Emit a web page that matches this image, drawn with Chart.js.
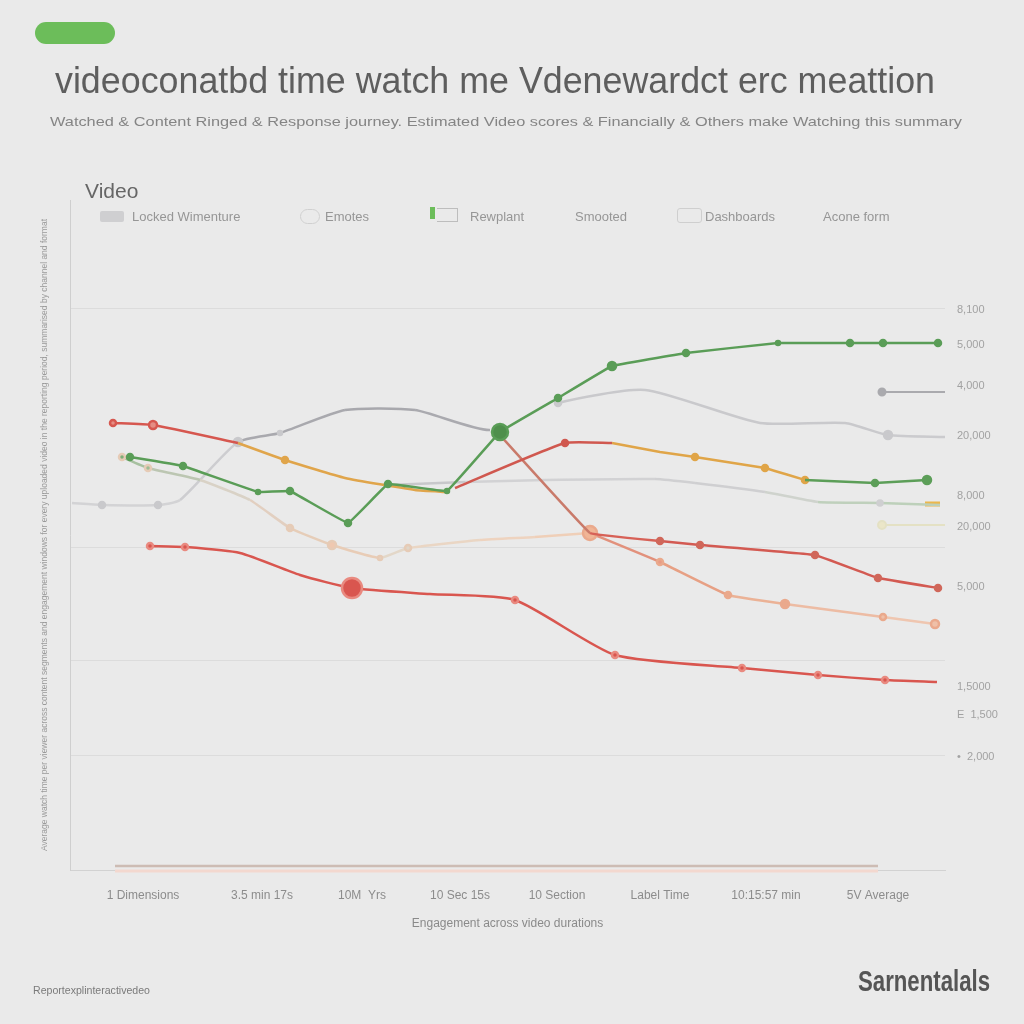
<!DOCTYPE html>
<html>
<head>
<meta charset="utf-8">
<script src="https://cdn.jsdelivr.net/npm/chart.js@4.4.0/dist/chart.umd.min.js"></script>
<style>
html, body { margin: 0; padding: 0; background: #eaeaea; }
#wrap { position: relative; width: 1024px; height: 1024px; overflow: hidden; font-family: "Liberation Sans", Arial, sans-serif; }
#c { position: absolute; left: 0; top: 0; }
.abs { position: absolute; white-space: nowrap; transform-origin: 0 0; }
.pill { position: absolute; left: 35px; top: 22px; width: 80px; height: 22px; border-radius: 11px; background: #6cbd5a; }
#title { left: 55px; top: 60px; font-size: 37px; color: #5e5e5e; }
#subtitle { left: 50px; top: 114px; font-size: 13px; color: #858585; }
#video { left: 85px; top: 179px; font-size: 21px; color: #666; }
.leg { position: absolute; top: 209px; font-size: 13px; color: #969696; white-space: nowrap; }
.sw { position: absolute; }
#foot1 { left: 33px; top: 984px; font-size: 11px; color: #7a7a7a; }
#foot2 { left: 858px; top: 964px; font-size: 30px; font-weight: bold; color: #555; }
</style>
</head>
<body>
<div id="wrap">
  <canvas id="c" width="1024" height="1024"></canvas>
  <div class="pill"></div>
  <div class="abs" id="title" data-w="880">videoconatbd time watch me Vden&#8203;ewardct erc meattion</div>
  <div class="abs" id="subtitle" data-w="912">Watched &amp; Content Ringed &amp; Response journey. Estimated Video scores &amp; Financially &amp; Others make Watching this summary</div>
  <div class="abs" id="video">Video</div>

  <div class="sw" style="left:100px;top:211px;width:24px;height:11px;background:#cfcfd1;border-radius:2px;"></div>
  <div class="leg" style="left:132px;">Locked Wimenture</div>
  <div class="sw" style="left:300px;top:209px;width:18px;height:13px;border:1.5px solid #d0d0d0;border-radius:8px;"></div>
  <div class="leg" style="left:325px;">Emotes</div>
  <div class="sw" style="left:430px;top:207px;width:5px;height:12px;background:#6cbd5a;"></div>
  <div class="sw" style="left:437px;top:208px;width:20px;height:12px;border:1.5px solid #bdbdbd;border-left:none;"></div>
  <div class="leg" style="left:470px;">Rewplant</div>
  <div class="leg" style="left:575px;">Smooted</div>
  <div class="sw" style="left:677px;top:208px;width:23px;height:13px;border:1.5px solid #cfcfcf;border-radius:3px;"></div>
  <div class="leg" style="left:705px;">Dashboards</div>
  <div class="leg" style="left:823px;">Acone form</div>

  <div class="abs" id="foot1" data-w="117">Reportexplinteractivedeo</div>
  <div class="abs" id="foot2" data-w="132">Sarnentalals</div>
</div>
<script>
// axis ticks / labels
var xTickPos = [7.3, 19.2, 29.2, 39.0, 48.7, 59.0, 69.6, 80.8];
var xTickLabels = ["1 Dimensions", "3.5 min 17s", "10M  Yrs", "10 Sec 15s", "10 Section", "Label Time", "10:15:57 min", "5V Average"];
var gridY = [11.5, 21.0, 32.3, 56.2];
var rightTickPos = [56.0, 52.5, 48.4, 43.4, 37.4, 34.3, 28.3, 18.3, 15.5, 11.3];
var rightTickLabels = ["8,100", "5,000", "4,000", "20,000", "8,000", "20,000", "5,000", "1,5000", "E  1,500", "\u2022  2,000"];

// series (x = minutes watched, y = engagement)
var greenX = [6.0, 11.3, 18.8, 22.0, 27.8, 31.8, 37.7, 43.0, 48.8, 54.2, 61.6, 70.8, 78.0, 81.3, 86.8];
var greenY = [41.3, 40.4, 37.8, 37.9, 34.7, 38.6, 37.9, 43.8, 47.2, 50.4, 51.7, 52.7, 52.7, 52.7, 52.7];
var grayX = [0.2, 3.2, 8.8, 11.0, 16.8, 21.0, 27.5, 34.5, 42.0, 48.8, 57.5, 69.0, 77.5, 81.8, 87.5];
var grayY = [36.7, 36.5, 36.5, 37.0, 42.8, 43.7, 46.0, 46.0, 44.0, 46.7, 48.0, 44.7, 44.7, 43.5, 43.3];
var lightX = [31.8, 39.5, 47.5, 58.5, 62.5, 69.5, 74.8, 81.0, 87.0];
var lightY = [38.5, 38.8, 39.0, 39.1, 38.7, 37.8, 36.8, 36.7, 36.5];
var beigeX = [5.2, 7.8, 13.0, 18.0, 22.0, 26.2, 31.0, 33.8, 41.0, 46.5, 52.0];
var beigeY = [41.3, 40.2, 39.0, 37.0, 34.2, 32.5, 31.2, 32.2, 33.0, 33.3, 33.7];
var peachX = [52.0, 59.0, 65.8, 71.5, 81.3, 86.5];
var peachY = [33.7, 30.8, 27.5, 26.6, 25.3, 24.6];
var redDownX = [42.8, 52.0, 59.0, 63.0, 74.5, 80.8, 86.8];
var redDownY = [43.7, 33.7, 32.9, 32.5, 31.5, 29.2, 28.2];
var redLowX = [8.0, 11.5, 17.0, 23.0, 28.2, 36.0, 44.5, 54.5, 67.2, 74.8, 81.5, 86.7];
var redLowY = [32.4, 32.3, 31.7, 29.5, 28.2, 27.6, 27.0, 21.5, 20.2, 19.5, 19.0, 18.8];
var redTopX = [4.3, 8.3, 16.8];
var redTopY = [44.7, 44.5, 42.7];
var orangeTopX = [16.8, 21.5, 27.5, 34.5, 37.7];
var orangeTopY = [42.7, 41.0, 39.2, 38.0, 37.8];
var redMidX = [38.5, 49.5, 54.2];
var redMidY = [38.2, 42.7, 42.7];
var orangeMidX = [54.2, 59.0, 62.5, 69.5, 73.5];
var orangeMidY = [42.7, 41.8, 41.3, 40.2, 39.0];
var greenShortX = [73.5, 80.5, 85.7];
var greenShortY = [39.0, 38.7, 39.0];
var grayShortX = [81.2, 87.5];
var grayShortY = [47.8, 47.8];
var paleX = [81.2, 87.5];
var paleY = [34.5, 34.5];
var baseX = [4.5, 80.8];
var baseY = [0.4, 0.4];
var basePinkY = [-0.1, -0.1];

function pts(xs, ys) {
    return xs.map(function (x, i) { return { x: x, y: ys[i] }; });
}
function seg(cols) {
    return { borderColor: function (ctx) { return cols[ctx.p0DataIndex]; } };
}
function line(label, xs, ys, color, extra) {
    var d = {
        label: label,
        data: pts(xs, ys),
        borderColor: color,
        backgroundColor: color,
        pointBackgroundColor: color,
        pointBorderColor: color,
        borderWidth: 2.5,
        pointRadius: 2.5,
        pointHoverRadius: 2.5,
        tension: 0.15,
        clip: false
    };
    for (var k in extra) d[k] = extra[k];
    return d;
}

var datasets = [
    line("Rewplant", greenX, greenY, "#5a9d57", {
        tension: 0.05,
        pointRadius: [3, 3, 2, 3, 3, 3, 2, 8, 3, 4, 3, 2, 3, 3, 3],
        pointBackgroundColor: ["#5a9d57", "#5a9d57", "#5a9d57", "#5a9d57", "#5a9d57", "#5a9d57", "#5a9d57", "#4f8f4c", "#5a9d57", "#5a9d57", "#5a9d57", "#5a9d57", "#5a9d57", "#5a9d57", "#5a9d57"]
    }),
    line("Acone form", greenShortX, greenShortY, "#5c9e58", { tension: 0.05, pointRadius: [0, 3, 4] }),
    line("Smooted", redLowX, redLowY, "#d9564f", {
        tension: 0.2,
        pointRadius: [3, 3, 0, 0, 10, 0, 3, 3, 3, 3, 3, 0],
        pointBorderColor: "#e98a80"
    }),
    line("Red top", redTopX, redTopY, "#d6574f", { pointRadius: [3, 4, 0], pointBackgroundColor: "#e58d84" }),
    line("Orange top", orangeTopX, orangeTopY, "#e0a54b", { pointRadius: [0, 3, 0, 0, 0] }),
    line("Red mid", redMidX, redMidY, "#d0584f", { pointRadius: [0, 3, 0] }),
    line("Orange mid", orangeMidX, orangeMidY, "#e0a548", { tension: 0.05, pointRadius: [0, 0, 3, 3, 3] }),
    line("Red down", redDownX, redDownY, "#d0675a", {
        tension: 0.05,
        pointRadius: [0, 0, 3, 3, 3, 3, 3],
        segment: seg(["#c97a6a", "#d76157", "#d35a52", "#d35a52", "#d35a52", "#d35a52"])
    }),
    line("Peach", peachX, peachY, "#eaa98c", {
        tension: 0.1,
        pointRadius: [7, 3, 3, 4, 3, 4],
        pointBackgroundColor: ["#f0b596", "#e89b85", "#eaa98c", "#eaa98c", "#efc0a8", "#efc0a8"],
        segment: seg(["#e2917c", "#e7a084", "#ebb296", "#edbca4", "#efc6b0"])
    }),
    line("Emotes", beigeX, beigeY, "#e6cbb6", {
        pointRadius: [3, 3, 0, 0, 3, 4, 2, 3, 0, 0, 0],
        pointBackgroundColor: ["#7fae78", "#9dbc94", "#dcd2c4", "#dcd2c4", "#e3cdbc", "#efc8b0", "#e6d3c3", "#e0d6c8", "#ebcdb6", "#ebcdb6", "#ebcdb6"],
        segment: seg(["#a7c0a0", "#bcc6b2", "#d9d2c6", "#e2cfc0", "#e6cdb8", "#e8ccb6", "#e3d7c8", "#ead6c4", "#eed3bf", "#efcfb8"])
    }),
    line("Dashboards", lightX, lightY, "#cfcfd1", {
        pointRadius: [0, 0, 0, 0, 0, 0, 0, 2.5, 0],
        segment: seg(["#c8c8cb", "#d2d2d4", "#d2d2d4", "#d0d0d2", "#cfcfd1", "#cfd3cd", "#bfd0bc", "#bdd0ba"])
    }),
    line("Locked Wimenture", grayX, grayY, "#b3b3b8", {
        tension: 0.2,
        pointRadius: [0, 3, 3, 0, 4, 2, 0, 0, 0, 3, 0, 0, 0, 4, 0],
        pointBackgroundColor: "#c9c9cc",
        pointBorderColor: "#c9c9cc",
        segment: seg(["#d3d3d5", "#d3d3d5", "#d3d3d5", "#cdcdd0", "#a9a9ae", "#a9a9ae", "#a8a8ad", "#aaaaaf", "rgba(0,0,0,0)", "#c9c9cc", "#c9c9cc", "#c9c9cc", "#c9c9cc", "#cbcbce"])
    }),
    line("Gray short", grayShortX, grayShortY, "#aaaaae", { borderWidth: 2, pointRadius: [3.5, 0] }),
    line("Pale", paleX, paleY, "#e4e1c4", { borderWidth: 2, pointRadius: [4, 0], pointBackgroundColor: "#ebe6c8" }),
    line("Orange tip", [85.5, 87.0], [36.6, 36.6], "#ebb74c", { borderWidth: 5, pointRadius: 0 }),
    line("Base", baseX, baseY, "#cdbcb4", { borderWidth: 2.5, pointRadius: 0 }),
    line("Base pink", baseX, basePinkY, "#f3d8cf", { borderWidth: 3, pointRadius: 0 })
];

var yTitle = "Average watch time per viewer across content segments and engagement windows for every uploaded video in the reporting period, summarised by channel and format";

var ctx = document.getElementById("c").getContext("2d");
var myChart = new Chart(ctx, {
    type: "line",
    data: { datasets: datasets },
    options: {
        responsive: false,
        animation: false,
        events: [],
        layout: { padding: { left: 30, top: 200, right: 0, bottom: 89 } },
        plugins: {
            legend: { display: false },
            title: { display: false },
            tooltip: { enabled: false }
        },
        scales: {
            x: {
                type: "linear",
                min: 0,
                max: 87.5,
                afterFit: function (s) { s.height = 65; },
                afterBuildTicks: function (s) { s.ticks = xTickPos.map(function (v) { return { value: v }; }); },
                ticks: {
                    autoSkip: false,
                    maxRotation: 0,
                    padding: 10,
                    color: "#8c8c8c",
                    font: { size: 12, family: "Liberation Sans" },
                    callback: function (v, i) { return xTickLabels[i]; }
                },
                grid: { display: false },
                border: { color: "#d2d2d2" },
                title: {
                    display: true,
                    text: "Engagement across video durations",
                    color: "#8a8a8a",
                    font: { size: 12, family: "Liberation Sans" },
                    padding: { top: 0, bottom: 4 }
                }
            },
            y: {
                position: "left",
                min: 0,
                max: 67,
                afterFit: function (s) { s.width = 40; },
                afterBuildTicks: function (s) { s.ticks = gridY.map(function (v) { return { value: v }; }); },
                ticks: { display: false },
                grid: { color: "#dcdcdc", drawTicks: false },
                border: { color: "#cfcfcf" },
                title: {
                    display: true,
                    text: yTitle,
                    color: "#9a9a9a",
                    font: { size: 8.5, family: "Liberation Sans" },
                    padding: { top: 10, bottom: 0 }
                }
            },
            y2: {
                position: "right",
                min: 0,
                max: 67,
                afterFit: function (s) { s.width = 79; },
                afterBuildTicks: function (s) { s.ticks = rightTickPos.map(function (v) { return { value: v }; }); },
                ticks: {
                    autoSkip: false,
                    padding: 4,
                    color: "#a2a2a2",
                    font: { size: 11, family: "Liberation Sans" },
                    callback: function (v, i) { return rightTickLabels[i]; }
                },
                grid: { display: false },
                border: { display: false }
            }
        }
    }
});

// squeeze header / footer text to the widths in the picture
document.querySelectorAll("[data-w]").forEach(function (el) {
    var w = el.getBoundingClientRect().width;
    var target = parseFloat(el.getAttribute("data-w"));
    el.style.transform = "scaleX(" + (target / w) + ")";
});
</script>
</body>
</html>
